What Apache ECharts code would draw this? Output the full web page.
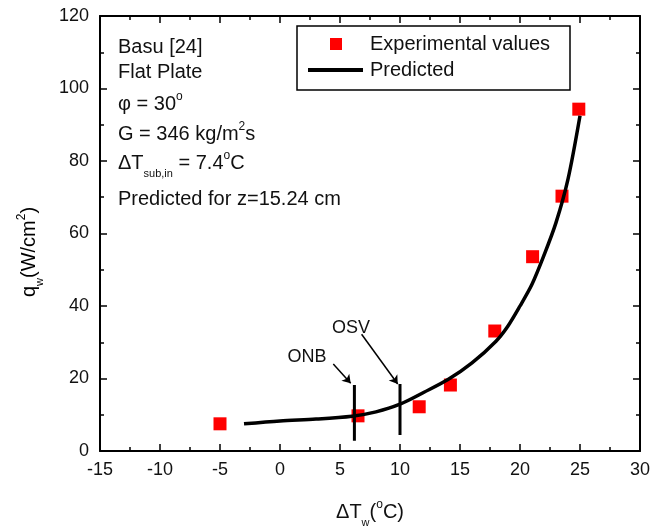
<!DOCTYPE html>
<html><head><meta charset="utf-8">
<script src="https://cdn.jsdelivr.net/npm/echarts@6/dist/echarts.min.js"></script>
<style>html,body{margin:0;padding:0;background:#fff}#c{width:663px;height:529px}</style>
</head><body><div id="c"></div>
<script>
// ---- data ----
const xMin = -15, xMax = 30, xStep = 5;
const yMin = 0, yMax = 120, yStep = 20;
const expX = [-5, 6.5, 11.6, 14.2, 17.9, 21.05, 23.5, 24.9];
const expY = [7.5, 9.7, 12.2, 18.2, 33.1, 53.6, 70.3, 94.3];
const predX = [-3, 0, 3, 6, 8, 10, 12, 14, 16, 18, 19, 20, 21, 22, 23, 24, 25];
const predY = [7.5, 8.3, 8.8, 9.6, 10.8, 12.9, 16.2, 19.7, 24.3, 30.3, 34.5, 40, 46, 54, 63, 75, 92.5];
const onbX = [6.2, 6.2], onbY = [2.8, 18.2];
const osvX = [10.0, 10.0], osvY = [4.4, 18.5];
const onbArrowX = [4.44, 5.89], onbArrowY = [24.0, 18.7];
const osvArrowX = [6.8, 9.81], osvArrowY = [32.2, 18.5];
const seriesNames = ['Experimental values', 'Predicted'];

const FF = 'Liberation Sans, Arial, sans-serif';
const TC = '#111';
const rich = {
  n: {fontSize: 20, fontFamily: FF, color: TC, lineHeight: 26, verticalAlign: 'middle'},
  sup: {fontSize: 12, fontFamily: FF, color: TC, lineHeight: 12, verticalAlign: 'top'},
  sub: {fontSize: 11, fontFamily: FF, color: TC, lineHeight: 11, padding: [18, 0, 0, 0], verticalAlign: 'top'}
};

const zip = (a, b) => a.map((v, i) => [v, b[i]]);

const chart = echarts.init(document.getElementById('c'), null, {renderer: 'canvas'});

const axisCommon = {
  type: 'value', splitLine: {show: false},
  axisLine: {show: true, onZero: false, lineStyle: {color: '#000', width: 2}},
  axisTick: {show: true, inside: true, length: 7, lineStyle: {color: '#000', width: 1.5}},
  minorTick: {show: true, splitNumber: 2, length: 4, lineStyle: {color: '#000', width: 1.5}}
};

const annoLines = [
  '{n|Basu [24]}',
  '{n|Flat Plate}',
  '{n|\u03c6 = 30}{sup|o}',
  '{n|G = 346 kg/m}{sup|2}{n|s}',
  '{n|\u0394T}{sub|sub,in}{n| = 7.4}{sup|o}{n|C}',
  '{n|Predicted for z=15.24 cm}'
];
const annoY = [50, 75, 104, 134, 163, 202];

const graphics = annoLines.map((t, i) => ({
  type: 'text', left: 118, top: annoY[i] - 13, silent: true,
  style: {text: t, rich: rich, fill: TC, fontFamily: FF, fontSize: 20}
}));
graphics.push({
  type: 'text', x: 29, y: 252, rotation: Math.PI / 2, silent: true,
  style: {text: '{n|q}{sub|w}{n|(W/cm}{sup|2}{n|)}', rich: rich, align: 'center', verticalAlign: 'middle'}
});
graphics.push({type: 'text', x: 307, y: 357, silent: true,
  style: {text: 'ONB', fontSize: 18, fontFamily: FF, fill: TC, align: 'center', verticalAlign: 'middle'}});
graphics.push({type: 'text', x: 351, y: 328, silent: true,
  style: {text: 'OSV', fontSize: 18, fontFamily: FF, fill: TC, align: 'center', verticalAlign: 'middle'}});
// legend (drawn as graphic)
graphics.push({type: 'rect', silent: true, z: 10,
  shape: {x: 297, y: 26, width: 273, height: 64},
  style: {fill: '#fff', stroke: '#000', lineWidth: 1.5}});
graphics.push({type: 'rect', silent: true, z: 11,
  shape: {x: 330, y: 38, width: 12, height: 12}, style: {fill: '#ff0000'}});
graphics.push({type: 'line', silent: true, z: 11,
  shape: {x1: 308, y1: 70, x2: 363, y2: 70}, style: {stroke: '#000', lineWidth: 4}});
graphics.push({type: 'text', x: 370, y: 44, silent: true, z: 11,
  style: {text: seriesNames[0], fontSize: 20, fontFamily: FF, fill: TC, verticalAlign: 'middle'}});
graphics.push({type: 'text', x: 370, y: 70, silent: true, z: 11,
  style: {text: seriesNames[1], fontSize: 20, fontFamily: FF, fill: TC, verticalAlign: 'middle'}});

const arrowML = (ax, ay) => ({
  silent: true, symbol: ['none', 'arrow'], symbolSize: 8, animation: false,
  label: {show: false}, lineStyle: {color: '#000', width: 1.5, type: 'solid'},
  emphasis: {disabled: true},
  data: [[{coord: [ax[0], ay[0]]}, {coord: [ax[1], ay[1]]}]]
});

chart.setOption({
  animation: false,
  backgroundColor: '#fff',
  grid: {left: 100, right: 23, top: 16, bottom: 78, containLabel: false, outerBoundsMode: 'none'},
  xAxis: [
    Object.assign({}, axisCommon, {
      min: xMin, max: xMax, interval: xStep, position: 'bottom',
      axisLabel: {fontSize: 18, fontFamily: FF, color: TC, margin: 10},
      name: '{n|\u0394T}{sub|w}{n|(}{sup|o}{n|C)}', nameLocation: 'middle', nameGap: 48,
      nameTextStyle: {rich: rich}
    }),
    Object.assign({}, axisCommon, {
      min: xMin, max: xMax, interval: xStep, position: 'top', axisLabel: {show: false}
    })
  ],
  yAxis: [
    Object.assign({}, axisCommon, {
      min: yMin, max: yMax, interval: yStep, position: 'left',
      axisLabel: {fontSize: 18, fontFamily: FF, color: TC, margin: 11}
    }),
    Object.assign({}, axisCommon, {
      min: yMin, max: yMax, interval: yStep, position: 'right', axisLabel: {show: false}
    })
  ],
  series: [
    {
      name: seriesNames[0], type: 'scatter', symbol: 'rect', symbolSize: 13,
      itemStyle: {color: '#ff0000', opacity: 1}, data: zip(expX, expY), silent: true, z: 3
    },
    {
      name: seriesNames[1], type: 'line', data: zip(predX, predY), showSymbol: false, symbol: 'none',
      smooth: 0.3, lineStyle: {color: '#000', width: 3.5},
      itemStyle: {color: '#000'}, silent: true, z: 4
    },
    {
      name: 'ONB', type: 'line', data: zip(onbX, onbY), showSymbol: false, symbol: 'none',
      lineStyle: {color: '#000', width: 3}, silent: true, z: 5,
      markLine: arrowML(onbArrowX, onbArrowY)
    },
    {
      name: 'OSV', type: 'line', data: zip(osvX, osvY), showSymbol: false, symbol: 'none',
      lineStyle: {color: '#000', width: 3}, silent: true, z: 5,
      markLine: arrowML(osvArrowX, osvArrowY)
    }
  ],
  graphic: graphics
});
</script>
</body></html>
